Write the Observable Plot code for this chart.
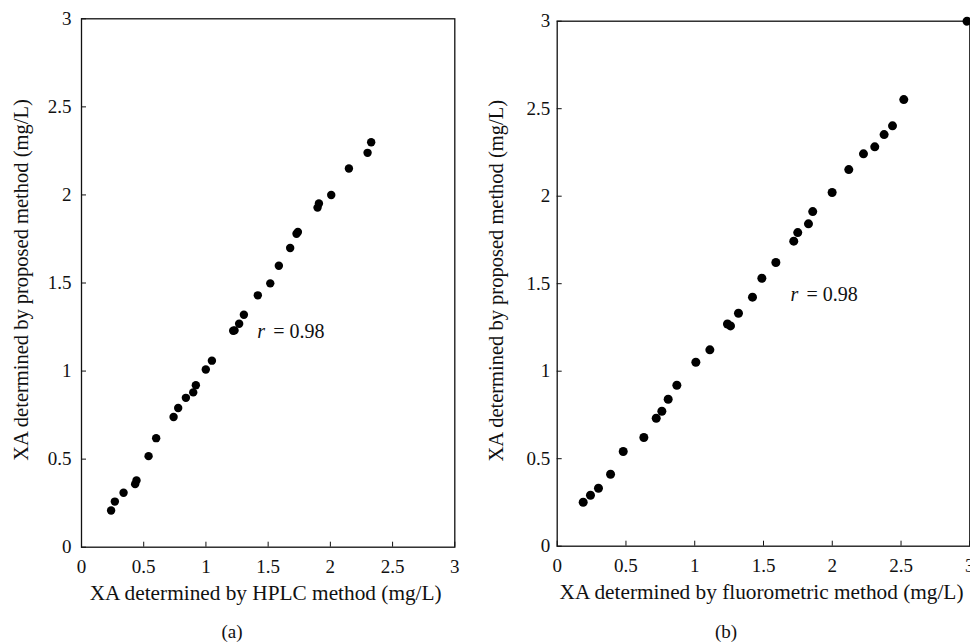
<!DOCTYPE html>
<html>
<head>
<meta charset="utf-8">
<script src="https://cdn.jsdelivr.net/npm/d3@7"></script>
<script src="https://cdn.jsdelivr.net/npm/@observablehq/plot@0.6"></script>
<style>
  html, body { margin: 0; padding: 0; overflow: hidden; background: #fff; }
  #wrap { position: relative; width: 970px; height: 642px; overflow: hidden; font-family: "Liberation Serif", "Times New Roman", serif; }
  #wrap svg { font-family: "Liberation Serif", "Times New Roman", serif; font-size: 19px; overflow: visible; }
  #wrap svg text { font-family: "Liberation Serif", "Times New Roman", serif; }
  .panel { position: absolute; top: 0; }
  .cap { position: absolute; font-size: 19px; color: #111; transform: translateX(-50%); white-space: nowrap; }
</style>
</head>
<body>
<div id="wrap"></div>
<script>
// ---- data ----
const xTicks = [0, 0.5, 1, 1.5, 2, 2.5, 3];
const yTicks = [0, 0.5, 1, 1.5, 2, 2.5, 3];

// Panel (a): HPLC vs proposed
const hplcX = [0.238, 0.268, 0.338, 0.431, 0.442, 0.539, 0.600, 0.740, 0.777, 0.839, 0.898, 0.919, 0.999, 1.048, 1.219, 1.230, 1.267, 1.305, 1.417, 1.517, 1.586, 1.677, 1.728, 1.739, 1.897, 1.908, 2.007, 2.149, 2.299, 2.328];
const proposedA = [0.208, 0.259, 0.309, 0.358, 0.379, 0.517, 0.619, 0.739, 0.790, 0.848, 0.879, 0.920, 1.009, 1.059, 1.229, 1.231, 1.269, 1.320, 1.430, 1.498, 1.598, 1.699, 1.780, 1.790, 1.928, 1.951, 2.000, 2.150, 2.239, 2.299];

// Panel (b): fluorometric vs proposed
const fluoroX = [0.189, 0.242, 0.300, 0.388, 0.480, 0.630, 0.720, 0.761, 0.807, 0.870, 1.008, 1.110, 1.238, 1.260, 1.318, 1.420, 1.488, 1.590, 1.720, 1.749, 1.827, 1.858, 1.999, 2.120, 2.227, 2.309, 2.377, 2.438, 2.520, 2.980];
const proposedB = [0.251, 0.291, 0.331, 0.411, 0.541, 0.621, 0.731, 0.771, 0.840, 0.920, 1.051, 1.122, 1.270, 1.259, 1.331, 1.423, 1.531, 1.621, 1.743, 1.792, 1.842, 1.912, 2.021, 2.152, 2.242, 2.282, 2.352, 2.402, 2.552, 3.000];

const xLabelA = "XA determined by HPLC method (mg/L)";
const xLabelB = "XA determined by fluorometric method (mg/L)";
const yLabel = "XA determined by proposed method (mg/L)";
const rLabel = "r";
const rValue = "= 0.98";
const annotA = {x: 1.412, y: 1.223};
const annotB = {x: 1.696, y: 1.435};
const captions = ["(a)", "(b)"];

// ---- drawing ----
const FONT = "'Liberation Serif', 'Times New Roman', serif";
function panel({xs, ys, xLabel, annot, width, height, ml, mr, mt, mb, r, yPad, labDx}) {
  const pts = xs.map((x, i) => ({x, y: ys[i]}));
  const innerW = width - ml - mr;
  const innerH = height - mt - mb;
  const fmt = d => String(d);
  return Plot.plot({
    width, height,
    marginLeft: ml, marginRight: mr, marginTop: mt, marginBottom: mb,
    x: {domain: [0, 3]},
    y: {domain: [0, 3]},
    marks: [
      Plot.frame({stroke: "#111", strokeWidth: 1.3}),
      Plot.tickX(xTicks, {x: d => d, insetTop: innerH - 5, stroke: "#111", strokeWidth: 1}),
      Plot.tickY(yTicks, {y: d => d, insetRight: innerW - 5, stroke: "#111", strokeWidth: 1}),
      Plot.axisX({ticks: xTicks, tickSize: 0, tickPadding: 12, tickFormat: fmt, label: null, fontSize: 19, fontFamily: FONT, fill: "#111"}),
      Plot.axisY({ticks: yTicks, tickSize: 0, tickPadding: yPad, tickFormat: fmt, label: null, fontSize: 19, fontFamily: FONT, fill: "#111"}),
      Plot.text([xLabel], {text: d => d, frameAnchor: "bottom", textAnchor: "middle", dy: 53, dx: labDx, lineAnchor: "bottom", fontSize: 21.3, fontFamily: FONT, fill: "#111"}),
      Plot.text([yLabel], {text: d => d, frameAnchor: "left", textAnchor: "middle", rotate: -90, dx: -54, dy: -3, lineAnchor: "bottom", fontSize: 20.5, fontFamily: FONT, fill: "#111"}),
      Plot.dot(pts, {x: "x", y: "y", r, fill: "#000", stroke: "none"}),
      Plot.text([annot], {x: "x", y: "y", text: () => rLabel, fontStyle: "italic", textAnchor: "start", fontSize: 20, fontFamily: FONT, fill: "#111"}),
      Plot.text([annot], {x: "x", y: "y", text: () => rValue, dx: 16, textAnchor: "start", fontSize: 20, fontFamily: FONT, fill: "#111"})
    ]
  });
}

const wrap = document.getElementById("wrap");

const a = panel({xs: hplcX, ys: proposedA, xLabel: xLabelA, annot: annotA,
  width: 480, height: 610, ml: 81, mr: 25.7, mt: 18.3, mb: 63.3, r: 4.2, yPad: 10, labDx: -2.5});
a.classList.add("panel");
a.style.left = "0px";
wrap.appendChild(a);

const b = panel({xs: fluoroX, ys: proposedB, xLabel: xLabelB, annot: annotB,
  width: 490, height: 610, ml: 76.7, mr: 0.7, mt: 20.7, mb: 64.3, r: 4.5, yPad: 7, labDx: -2});
b.classList.add("panel");
b.style.left = "480px";
wrap.appendChild(b);

const capPos = [232, 726];
captions.forEach((c, i) => {
  const d = document.createElement("div");
  d.className = "cap";
  d.textContent = c;
  d.style.left = capPos[i] + "px";
  d.style.top = "621px";
  wrap.appendChild(d);
});
</script>
</body>
</html>
